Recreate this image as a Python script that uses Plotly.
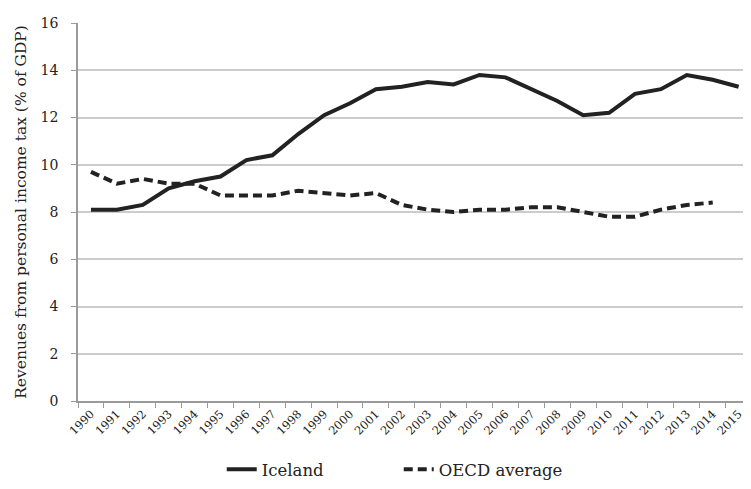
import plotly.graph_objects as go

years = [str(y) for y in range(1990, 2016)]
iceland = [8.1, 8.1, 8.3, 9.0, 9.3, 9.5, 10.2, 10.4, 11.3, 12.1, 12.6, 13.2, 13.3,
           13.5, 13.4, 13.8, 13.7, 13.2, 12.7, 12.1, 12.2, 13.0, 13.2, 13.8, 13.6, 13.3]
oecd = [9.7, 9.2, 9.4, 9.2, 9.2, 8.7, 8.7, 8.7, 8.9, 8.8, 8.7, 8.8, 8.3,
        8.1, 8.0, 8.1, 8.1, 8.2, 8.2, 8.0, 7.8, 7.8, 8.1, 8.3, 8.4, None]
y_ticks = [0, 2, 4, 6, 8, 10, 12, 14, 16]

FONT = "DejaVu Serif"
fig = go.Figure()
fig.add_trace(go.Scatter(x=years, y=iceland, mode="lines", name="Iceland",
                         line=dict(color="#222222", width=4)))
fig.add_trace(go.Scatter(x=years, y=oecd, mode="lines", name="OECD average",
                         line=dict(color="#222222", width=4, dash="9px,5px")))

fig.update_layout(
    width=751, height=489,
    margin=dict(l=70, r=10, t=15, b=90),
    paper_bgcolor="white", plot_bgcolor="white",
    font=dict(family=FONT, color="#222222", size=13),
    showlegend=True,
    legend=dict(orientation="h", x=0.478, xanchor="center", y=-0.135, yanchor="top",
                font=dict(size=16.5), entrywidth=132),
    xaxis=dict(type="category", range=[-0.5, 25.4], showgrid=False, automargin=False,
               showline=True, linecolor="#9a9a9a", linewidth=1.5,
               ticks="outside", tickson="boundaries", ticklen=5, tickcolor="#9a9a9a",
               tickangle=-45, tickfont=dict(size=11.5)),
    yaxis=dict(range=[0, 16], tickvals=y_ticks, showgrid=True, gridcolor="#cccccc",
               gridwidth=1.5, showline=True, linecolor="#9a9a9a", linewidth=1.5,
               ticks="outside", ticklen=5, tickcolor="#9a9a9a", zeroline=False,
               automargin=False, ticklabelstandoff=10,
               tickfont=dict(size=14),
               title=dict(text="Revenues from personal income tax (% of GDP)",
                          font=dict(size=15.5), standoff=10)),
)
fig.write_html("out.html")
